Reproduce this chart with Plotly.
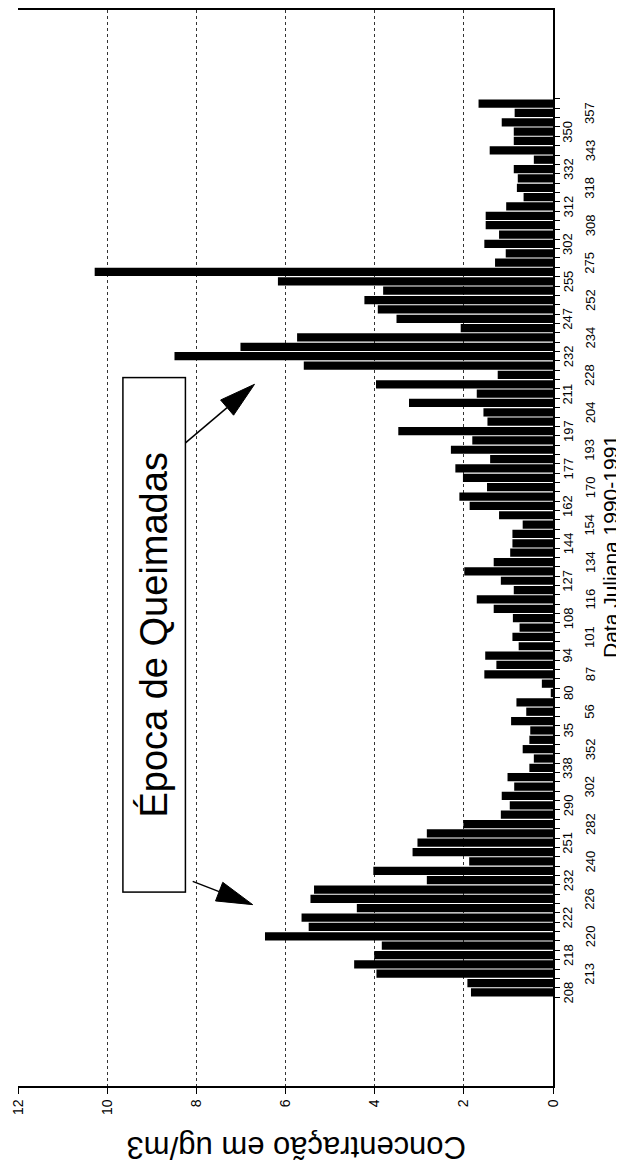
import math
import plotly.graph_objects as go

# Chronological order (bottom of the rotated chart -> top)
concentracao = [
    1.84, 1.92, 3.96, 4.46, 4.01, 3.84, 6.46, 5.48, 5.64, 4.40,
    5.44, 5.36, 2.83, 4.03, 1.88, 3.15, 3.04, 2.83, 2.01, 1.17,
    0.97, 1.15, 0.87, 1.02, 0.53, 0.43, 0.68, 0.53, 0.51, 0.94,
    0.60, 0.82, 0.05, 0.25, 1.54, 1.27, 1.52, 0.77, 0.91, 0.75,
    0.90, 1.33, 1.71, 0.88, 1.17, 1.99, 1.33, 0.96, 0.91, 0.91,
    0.68, 1.21, 1.87, 2.10, 1.48, 2.02, 2.19, 1.41, 2.29, 1.81,
    3.47, 1.47, 1.56, 3.23, 1.71, 3.97, 1.24, 5.59, 8.49, 7.01,
    5.74, 2.07, 3.51, 3.93, 4.23, 3.81, 6.17, 10.28, 1.30, 1.06,
    1.54, 1.21, 1.51, 1.51, 1.05, 0.66, 0.81, 0.79, 0.88, 0.43,
    1.42, 0.88, 0.88, 1.15, 0.86, 1.67,
]

# Julian-day labels shown on every second bar (starting with the first)
rotulos = [
    "208", "213", "218", "220", "222", "226", "232", "240", "251", "282",
    "290", "302", "338", "352", "35", "56", "80", "87", "94", "101",
    "108", "116", "127", "134", "144", "154", "162", "170", "177", "193",
    "197", "204", "211", "228", "232", "234", "247", "252", "255", "275",
    "302", "308", "312", "318", "332", "343", "350", "357",
]

valor_ticks = [0, 2, 4, 6, 8, 10, 12]

titulo_x = "Data Juliana 1990-1991"
titulo_y = "Concentração em ug/m3"
destaque = "Época de Queimadas"

FONT = "Arial, Liberation Sans, sans-serif"

# page geometry (browser body has an 8px margin)
OFF = 8
W, H = 624 - OFF, 1169 - OFF
ML, MR, MT, MB = 10, 71, 0, 83
PW, PH = W - ML - MR, H - MT - MB


def to_paper(sx, sy):
    """screen pixel -> paper coordinates"""
    return ((sx - OFF - ML) / PW, (H - MB - (sy - OFF)) / PH)


n = len(concentracao)
posicoes = list(range(n))

fig = go.Figure()
fig.add_trace(go.Bar(
    x=concentracao,
    y=posicoes,
    orientation="h",
    width=0.88,
    marker=dict(color="black", line=dict(width=0)),
    hoverinfo="x",
))

annotations = []
for j, lab in enumerate(rotulos):
    annotations.append(dict(
        x=to_paper(568 if j % 2 == 0 else 590, 0)[0], xref="paper",
        y=2 * j, yref="y",
        text=lab, textangle=-90, showarrow=False,
        font=dict(family=FONT, size=13, color="black"),
        xanchor="center", yanchor="middle",
    ))

# axis titles
px_, py_ = to_paper(610, 546)
annotations.append(dict(
    x=px_, xref="paper", y=py_, yref="paper",
    text=titulo_x, textangle=-90, showarrow=False,
    xanchor="center", yanchor="middle",
    font=dict(family=FONT, size=21, color="black"),
))
px_, py_ = to_paper(297, 1147)
annotations.append(dict(
    x=px_, xref="paper", y=py_, yref="paper",
    text=titulo_y, textangle=180, showarrow=False,
    xanchor="center", yanchor="middle",
    font=dict(family=FONT, size=31, color="black"),
))

# highlighted box
px_, py_ = to_paper(154.5, 634.5)
annotations.append(dict(
    x=px_, xref="paper", y=py_, yref="paper",
    text=destaque, textangle=-90, showarrow=False,
    xanchor="center", yanchor="middle",
    font=dict(family=FONT, size=38, color="black"),
    bordercolor="black", borderwidth=1.5, borderpad=0,
    bgcolor="white", width=513, height=61,
))

# arrows (line + long narrow filled head), drawn as paper shapes
shapes = []


def arrow(tail, tip, head_len=36, half_w=10):
    dx, dy = tip[0] - tail[0], tip[1] - tail[1]
    L = math.hypot(dx, dy)
    ux, uy = dx / L, dy / L
    bx, by = tip[0] - head_len * ux, tip[1] - head_len * uy
    nx, ny = -uy * half_w, ux * half_w
    t0 = to_paper(*tail)
    b0 = to_paper(bx, by)
    shapes.append(dict(type="line", xref="paper", yref="paper",
                       x0=t0[0], y0=t0[1], x1=b0[0], y1=b0[1],
                       line=dict(color="black", width=1.5)))
    p1 = to_paper(tip[0], tip[1])
    p2 = to_paper(bx + nx, by + ny)
    p3 = to_paper(bx - nx, by - ny)
    shapes.append(dict(type="path", xref="paper", yref="paper",
                       path=f"M{p1[0]},{p1[1]} L{p2[0]},{p2[1]} L{p3[0]},{p3[1]} Z",
                       fillcolor="black", line=dict(color="black", width=1)))


arrow((184, 443), (254.5, 383))
arrow((192.7, 881), (252.7, 904.3))

fig.update_layout(
    width=W, height=H,
    margin=dict(l=ML, r=MR, t=MT, b=MB, pad=0),
    plot_bgcolor="white", paper_bgcolor="white",
    showlegend=False,
    bargap=0.1,
    font=dict(family=FONT, color="black"),
    xaxis=dict(
        range=[12, 0],
        tickmode="array", tickvals=valor_ticks,
        ticktext=[str(v) for v in valor_ticks],
        tickangle=-90, ticks="outside", ticklen=6, tickcolor="black",
        tickfont=dict(family=FONT, size=14, color="black"),
        showline=True, linecolor="black", linewidth=1.5, mirror=True,
        showgrid=True, gridcolor="#333333", griddash="dot", gridwidth=1,
        zeroline=False,
    ),
    yaxis=dict(
        range=[-10, n + 9],
        side="right",
        showline=True, linecolor="black", linewidth=1.5,
        showgrid=False, zeroline=False,
        tickmode="array", tickvals=[i - 0.5 for i in range(n + 1)],
        ticks="outside", ticklen=5, tickcolor="black",
        showticklabels=False,
    ),
    annotations=annotations,
    shapes=shapes,
)

fig.write_html("out.html")
